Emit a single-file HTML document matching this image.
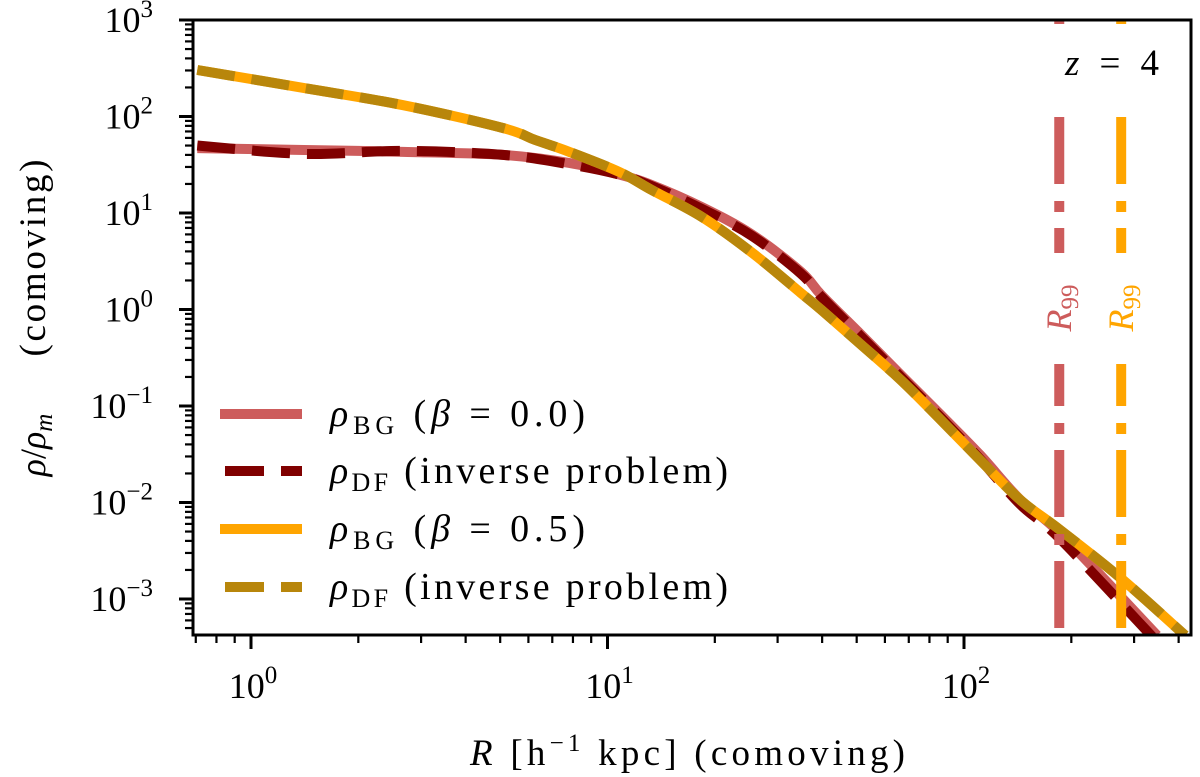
<!DOCTYPE html>
<html><head><meta charset="utf-8"><style>
body{margin:0;background:#fff}
svg{display:block;font-family:"Liberation Serif","DejaVu Serif",serif}
</style></head><body>
<svg id="chart" width="1200" height="777" viewBox="0 0 1200 777" xmlns="http://www.w3.org/2000/svg">
<defs><clipPath id="clip"><rect x="193" y="20" width="998" height="615"/></clipPath></defs>
<g id="marks" clip-path="url(#clip)"></g>
<g id="axes"></g>
<g id="legend"></g>
<text x="470" y="765" font-size="37" textLength="435" lengthAdjust="spacing"><tspan font-style="italic">R</tspan> [h<tspan dy="-14" font-size="25">−1</tspan><tspan dy="14"> kpc]    (comoving)</tspan></text>
<text transform="translate(45,258) rotate(-90)" font-size="37" text-anchor="middle" textLength="197" lengthAdjust="spacing">(comoving)</text>
<text transform="translate(45,445) rotate(-90)" font-size="36" text-anchor="middle"><tspan font-style="italic">ρ</tspan>/<tspan font-style="italic">ρ</tspan><tspan dy="7" font-size="25" font-style="italic">m</tspan></text>
</svg>
<script>
const rBG0=[0.707,1.41,2.67,5.09,7.82,10.8,13.3,18.4,25.4,34.9,39.8,51.5,66.5,86,111,144,186,348];
const rhoBG0=[47,45,43,40,33,25,19.5,11.5,6.0,2.45,1.41,0.545,0.21,0.081,0.031,0.0106,0.0048,0.00042];
const rhoDF0=[50,41,44,40,32,25,19,11,5.8,2.35,1.35,0.52,0.2,0.076,0.028,0.0095,0.0042,0.00036];
const rBG05=[0.707,1.41,2.67,5.09,6.28,7.82,10.8,13.3,18.4,25.4,34.9,39.8,51.5,66.5,86,111,144,186,275,417];
const rhoBG05=[303,197,131,76,57,43,26.6,17.3,9.1,3.9,1.48,0.99,0.43,0.186,0.072,0.0275,0.0106,0.0052,0.00165,0.00042];
const rhoDF05=[303,197,131,76,57,43,26.6,17.3,9.1,3.9,1.48,0.99,0.43,0.186,0.072,0.0275,0.0106,0.0052,0.00165,0.00042];
const r99=[185,276];
const xTicks=[1,10,100];
const yTicks=[3,2,1,0,-1,-2,-3];
const NS="http://www.w3.org/2000/svg";
const X0=193,X1=1191,Y0=20,Y1=635;
const xLogMin=-0.1627,xDec=356.5;
const yDec=96.5;
function sx(r){return X0+(Math.log10(r)-xLogMin)*xDec;}
function sy(v){return Y0+(3-Math.log10(v))*yDec;}
function mk(t,a,p){const e=document.createElementNS(NS,t);for(const k in a)e.setAttribute(k,a[k]);p.appendChild(e);return e;}
const svg=document.getElementById('chart'),marks=document.getElementById('marks'),axes=document.getElementById('axes'),legend=document.getElementById('legend');
function smooth(pts){
  let d='M'+pts[0][0].toFixed(1)+','+pts[0][1].toFixed(1);
  for(let i=0;i<pts.length-1;i++){
    const p0=pts[Math.max(0,i-1)],p1=pts[i],p2=pts[i+1],p3=pts[Math.min(pts.length-1,i+2)];
    const c1=[p1[0]+(p2[0]-p0[0])/6,p1[1]+(p2[1]-p0[1])/6],c2=[p2[0]-(p3[0]-p1[0])/6,p2[1]-(p3[1]-p1[1])/6];
    d+='C'+c1[0].toFixed(1)+','+c1[1].toFixed(1)+' '+c2[0].toFixed(1)+','+c2[1].toFixed(1)+' '+p2[0].toFixed(1)+','+p2[1].toFixed(1);
  }
  return d;
}
function line(rs,vs,color,dash,name){
  const pts=rs.map((r,i)=>[sx(r),sy(vs[i])]);
  const p=mk('path',{d:smooth(pts),fill:'none',stroke:color,'stroke-width':10,'stroke-dasharray':dash||'none'},marks);
  
  
}
line(rBG0,rhoBG0,'#CD5C5C','','series-bg-beta0');
line(rBG0,rhoDF0,'#800000','38,17','series-df-beta0');
line(rBG05,rhoBG05,'#FFA500','','series-bg-beta05');
line(rBG05,rhoDF05,'#B8860B','38,17','series-df-beta05');
const r99c=['#CD5C5C','#FFA500'];
r99.forEach((r,i)=>{
  const x=sx(r);
  const l=mk('line',{x1:x,y1:Y0,x2:x,y2:Y1,stroke:r99c[i],'stroke-width':10,'stroke-dasharray':'67,17,11,16','stroke-dashoffset':14},marks);
  
  
  const bg=mk('rect',{x:x-18,y:253,width:36,height:111,fill:'#fff'},marks);
  
  
  const t=mk('text',{transform:`translate(${x+12},308) rotate(-90)`,'font-size':36,'text-anchor':'middle',fill:r99c[i]},marks);
  
  
  t.innerHTML='<tspan font-style="italic">R</tspan><tspan dy="7" font-size="25">99</tspan>';
});
const zb=mk('rect',{x:1035,y:24,width:150,height:84,fill:'#fff'},marks);


const zt=mk('text',{x:1065,y:75,'font-size':37,textLength:94,lengthAdjust:'spacing'},svg);


zt.innerHTML='<tspan font-style="italic">z</tspan> = 4';
const fr=mk('rect',{x:X0,y:Y0,width:X1-X0,height:Y1-Y0,fill:'none',stroke:'#000','stroke-width':3},axes);


for(let d=-1;d<=2;d++){for(let m=1;m<10;m++){const r=m*Math.pow(10,d);const x=sx(r);if(x<X0-0.5||x>X1+0.5)continue;
  const tk=mk('line',{x1:x,y1:Y1,x2:x,y2:Y1+(m==1?14:8),stroke:'#000','stroke-width':m==1?3:2.2},axes);
  
  }}
xTicks.forEach(r=>{const t=mk('text',{x:sx(r)+2,y:Y1+63,'font-size':36,'text-anchor':'middle'},axes);
  
  
  t.innerHTML='10<tspan dy="-15" font-size="25">'+Math.round(Math.log10(r))+'</tspan>';});
for(let d=-4;d<=3;d++){for(let m=1;m<10;m++){const v=m*Math.pow(10,d);const y=sy(v);if(y<Y0-0.5||y>Y1+0.5)continue;
  const tk=mk('line',{x1:X0,y1:y,x2:X0-(m==1?14:8),y2:y,stroke:'#000','stroke-width':m==1?3:2.2},axes);
  
  }}
yTicks.forEach(e=>{const t=mk('text',{x:X0-40,y:sy(Math.pow(10,e))+12,'font-size':36,'text-anchor':'end'},axes);
  
  
  t.innerHTML='10<tspan dy="-15" font-size="25">'+(e<0?'−'+(-e):e)+'</tspan>';});
const leg=[['#CD5C5C','','BG','(<tspan font-style="italic">β</tspan> = 0.0)',255],['#800000','39,17','DF','(inverse problem)',398],['#FFA500','','BG','(<tspan font-style="italic">β</tspan> = 0.5)',255],['#B8860B','39,17','DF','(inverse problem)',398]];
const legY=[414,471,529,587];
leg.forEach((e,i)=>{
  const l=mk('line',{x1:220,y1:legY[i],x2:302,y2:legY[i],stroke:e[0],'stroke-width':10,'stroke-dasharray':e[1]||'none','stroke-dashoffset':-5},legend);
  
  
  const t=mk('text',{x:330,y:legY[i]+12,'font-size':38,textLength:e[4],lengthAdjust:'spacing'},legend);
  
  
  t.innerHTML='<tspan font-style="italic">ρ</tspan><tspan dy="8" font-size="26">'+e[2]+'</tspan><tspan dy="-8"> '+e[3]+'</tspan>';
});
</script>
</body></html>
